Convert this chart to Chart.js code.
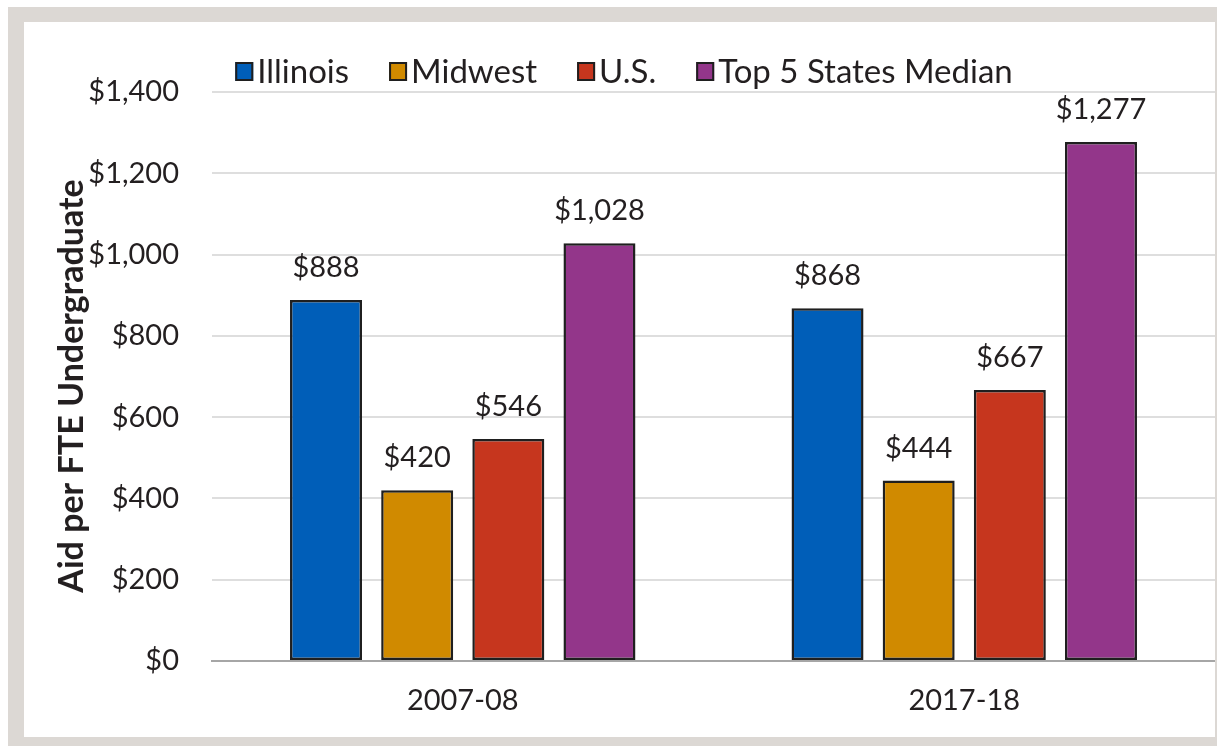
<!DOCTYPE html>
<html>
<head>
<meta charset="utf-8">
<script src="https://cdn.jsdelivr.net/npm/chart.js@4.4.1/dist/chart.umd.min.js"></script>
<style>
  html, body { margin: 0; padding: 0; background: #ffffff; width: 1217px; height: 746px; overflow: hidden; }
  #frame { position: absolute; left: 8px; top: 7px; width: 1209px; height: 739px; background: #dcd8d4; }
  #inner { position: absolute; left: 24px; top: 22px; width: 1191px; height: 715px; background: #ffffff; }
  canvas { display: block; }
</style>
</head>
<body>
<div id="frame"></div>
<div id="inner"><canvas id="c" width="1191" height="715"></canvas></div>
<script>
// ---- Data ----
const categories = ['2007-08', '2017-18'];
const seriesNames = ['Illinois', 'Midwest', 'U.S.', 'Top 5 States Median'];
const illinois = [888, 868];
const midwest = [420, 444];
const us = [546, 667];
const top5Median = [1028, 1277];
const yTicks = [0, 200, 400, 600, 800, 1000, 1200, 1400];
const yTitle = 'Aid per FTE Undergraduate';

// ---- Styles ----
const colors = ['#005EB8', '#D08A00', '#C6361E', '#93368A'];
const FONT = 'Lato, "Open Sans", sans-serif';
const TEXT = '#231f20';

const fmt = v => '$' + v.toLocaleString('en-US');

const customPlugin = {
  id: 'custom',
  afterDraw(chart) {
    const ctx = chart.ctx;
    ctx.save();
    // data labels
    ctx.font = '29px ' + FONT;
    ctx.fillStyle = TEXT;
    ctx.textAlign = 'center';
    ctx.textBaseline = 'alphabetic';
    chart.data.datasets.forEach((ds, di) => {
      const meta = chart.getDatasetMeta(di);
      meta.data.forEach((el, i) => {
        ctx.fillText(fmt(ds.data[i]), el.x, el.y - 23);
      });
    });
    // y title
    ctx.save();
    ctx.translate(48, 364);
    ctx.rotate(-Math.PI / 2);
    ctx.font = 'bold 34px ' + FONT;
    ctx.textAlign = 'center';
    ctx.textBaseline = 'middle';
    ctx.fillText(yTitle, 0, 0);
    ctx.restore();
    // legend
    ctx.font = '33px ' + FONT;
    const boxW = 18, boxH = 19, gapText = 4, gapItem = 40;
    const items = chart.data.datasets.map(ds => ({ label: ds.label, color: ds.backgroundColor, w: ctx.measureText(ds.label).width }));
    let total = 0;
    items.forEach((it, i) => { total += boxW + gapText + it.w + (i < items.length - 1 ? gapItem : 0); });
    let x = 600 - total / 2;
    const cy = 49.5;
    ctx.textAlign = 'left';
    ctx.textBaseline = 'middle';
    items.forEach(it => {
      ctx.fillStyle = it.color;
      ctx.fillRect(x, cy - boxH / 2, boxW, boxH);
      ctx.strokeStyle = '#1f1f1f';
      ctx.lineWidth = 2;
      ctx.strokeRect(x + 1, cy - boxH / 2 + 1, boxW - 2, boxH - 2);
      ctx.fillStyle = TEXT;
      ctx.fillText(it.label, x + boxW + gapText, cy + 1);
      x += boxW + gapText + it.w + gapItem;
    });
    ctx.restore();
  }
};

function build() {
  const seriesData = [illinois, midwest, us, top5Median];
  new Chart(document.getElementById('c'), {
    type: 'bar',
    data: {
      labels: categories,
      datasets: seriesNames.map((n, i) => ({
        label: n,
        data: seriesData[i],
        backgroundColor: colors[i],
        borderColor: '#1f1f1f',
        borderWidth: 2.5,
        borderSkipped: false,
        categoryPercentage: 0.727,
        barPercentage: 0.79
      }))
    },
    options: {
      responsive: false,
      animation: false,
      devicePixelRatio: 1,
      layout: { padding: { top: 70, right: 0, left: 0, bottom: 0 } },
      plugins: { legend: { display: false }, tooltip: { enabled: false }, title: { display: false } },
      scales: {
        x: {
          grid: { display: false, drawTicks: false },
          border: { display: true, color: '#a6a6a6', width: 2 },
          ticks: { font: { size: 29, family: FONT }, color: TEXT, padding: 22 },
          afterFit(s) { s.height = 76; }
        },
        y: {
          min: 0, max: 1400,
          afterBuildTicks(s) { s.ticks = yTicks.map(v => ({ value: v })); },
          grid: { color: ctx => ctx.tick && ctx.tick.value === 0 ? '#a6a6a6' : '#dedede', lineWidth: 2, drawTicks: false },
          border: { display: false },
          ticks: { font: { size: 29, family: FONT }, color: TEXT, padding: 33, callback: v => fmt(v) },
          afterFit(s) { s.width = 188; }
        }
      }
    },
    plugins: [customPlugin]
  });
}

if (document.fonts && document.fonts.load) {
  Promise.all([document.fonts.load('29px Lato'), document.fonts.load('bold 34px Lato'), document.fonts.load('33px Lato')]).then(build, build);
} else { build(); }
</script>
</body>
</html>
